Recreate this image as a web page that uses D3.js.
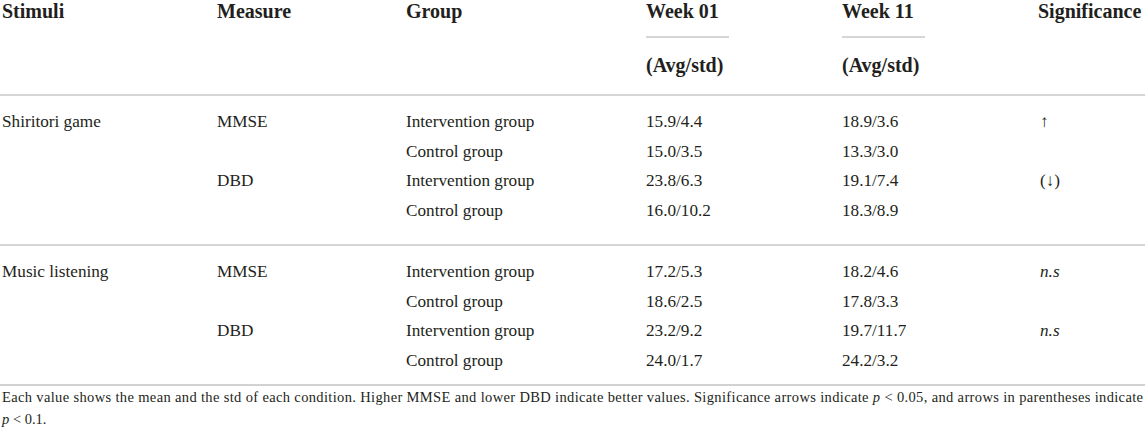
<!DOCTYPE html>
<html>
<head>
<meta charset="utf-8">
<script src="https://cdn.jsdelivr.net/npm/d3@7"></script>
<style>
  body { margin: 0; background: #fff; }
  svg { display: block; }
  text { font-family: "Liberation Serif", "Times New Roman", serif; fill: #231f20; }
</style>
</head>
<body>
<svg width="1145" height="435"></svg>
<script>
// table content
let columns = ['stimuli', 'measure', 'group', 'week01', 'week11', 'sig']
let headers = ['Stimuli', 'Measure', 'Group', 'Week 01', 'Week 11', 'Significance']
let subHeaders = ['', '', '', '(Avg/std)', '(Avg/std)', '']
let stimuli = ['Shiritori game', 'Music listening']
let measures = ['MMSE', 'DBD']
let groups = ['Intervention group', 'Control group']
let week01 = [
  ['15.9/4.4', '15.0/3.5', '23.8/6.3', '16.0/10.2'],
  ['17.2/5.3', '18.6/2.5', '23.2/9.2', '24.0/1.7']
]
let week11 = [
  ['18.9/3.6', '13.3/3.0', '19.1/7.4', '18.3/8.9'],
  ['18.2/4.6', '17.8/3.3', '19.7/11.7', '24.2/3.2']
]
let significance = [
  ['↑', '(↓)'],
  ['n.s', 'n.s']
]
let footnote = 'Each value shows the mean and the std of each condition. Higher MMSE and lower DBD indicate better values. Significance arrows indicate '

let svg = d3.select('svg')

let x = d3.scaleOrdinal()
  .domain(columns)
  .range([2, 217, 406, 646, 842, 1038])

let blockY = d3.scalePoint()
  .domain(stimuli)
  .range([127, 277])

let rowY = d3.scaleLinear()
  .domain([0, 3])
  .range([0, 89])

// rules
let ruleColor = '#c8c8c8'
svg.selectAll('line.rule')
  .data(stimuli)
  .enter().append('line')
  .attr('class', 'rule')
  .attr('x1', 0)
  .attr('x2', 1145)
  .attr('y1', d => blockY(d) - 32)
  .attr('y2', d => blockY(d) - 32)
  .attr('stroke', ruleColor)
  .attr('stroke-width', 1.5)

svg.append('line')
  .attr('x1', 0)
  .attr('x2', 1145)
  .attr('y1', blockY(stimuli[1]) + rowY(3) + 19)
  .attr('y2', blockY(stimuli[1]) + rowY(3) + 19)
  .attr('stroke', '#d2d2d2')
  .attr('stroke-width', 2.2)

// header
svg.selectAll('text.head')
  .data(headers)
  .enter().append('text')
  .attr('class', 'head')
  .attr('x', (d, i) => x(columns[i]))
  .attr('y', 18)
  .attr('font-size', 20)
  .attr('font-weight', 'bold')
  .text(d => d)

svg.selectAll('text.subhead')
  .data(subHeaders.filter(d => d))
  .enter().append('text')
  .attr('class', 'subhead')
  .attr('x', (d, i) => x(['week01', 'week11'][i]))
  .attr('y', 72)
  .attr('font-size', 20)
  .attr('font-weight', 'bold')
  .text(d => d)

svg.selectAll('line.under')
  .data(['week01', 'week11'])
  .enter().append('line')
  .attr('class', 'under')
  .attr('x1', d => x(d))
  .attr('x2', d => x(d) + 83)
  .attr('y1', 37)
  .attr('y2', 37)
  .attr('stroke', ruleColor)
  .attr('stroke-width', 1.5)

// body rows
let rows = []
stimuli.forEach((s, si) => {
  measures.forEach((m, mi) => {
    groups.forEach((g, gi) => {
      let r = mi * 2 + gi
      rows.push({
        stimulus: s, row: r,
        stimuli: r === 0 ? s : '',
        measure: gi === 0 ? m : '',
        group: g,
        week01: week01[si][r],
        week11: week11[si][r],
        sig: gi === 0 ? significance[si][mi] : ''
      })
    })
  })
})

let cells = []
rows.forEach(r => {
  columns.forEach(c => {
    if (r[c]) cells.push({ col: c, text: r[c], y: blockY(r.stimulus) + rowY(r.row) })
  })
})

svg.selectAll('text.cell')
  .data(cells)
  .enter().append('text')
  .attr('class', 'cell')
  .attr('x', d => x(d.col) + (d.col === 'sig' ? 2 : 0))
  .attr('y', d => d.y)
  .attr('font-size', 17.2)
  .attr('font-style', d => d.text === 'n.s' ? 'italic' : null)
  .text(d => d.text)

// footnote
let note = svg.append('text')
  .attr('x', 2)
  .attr('y', 402)
  .attr('font-size', 14.5)
  .attr('textLength', 1141)
  .attr('lengthAdjust', 'spacing')
note.append('tspan').text(footnote)
note.append('tspan').attr('font-style', 'italic').text('p')
note.append('tspan').text(' < 0.05, and arrows in parentheses indicate')

let note2 = svg.append('text')
  .attr('x', 2)
  .attr('y', 424)
  .attr('font-size', 14.5)
note2.append('tspan').attr('font-style', 'italic').text('p')
note2.append('tspan').text(' < 0.1.')
</script>
</body>
</html>
